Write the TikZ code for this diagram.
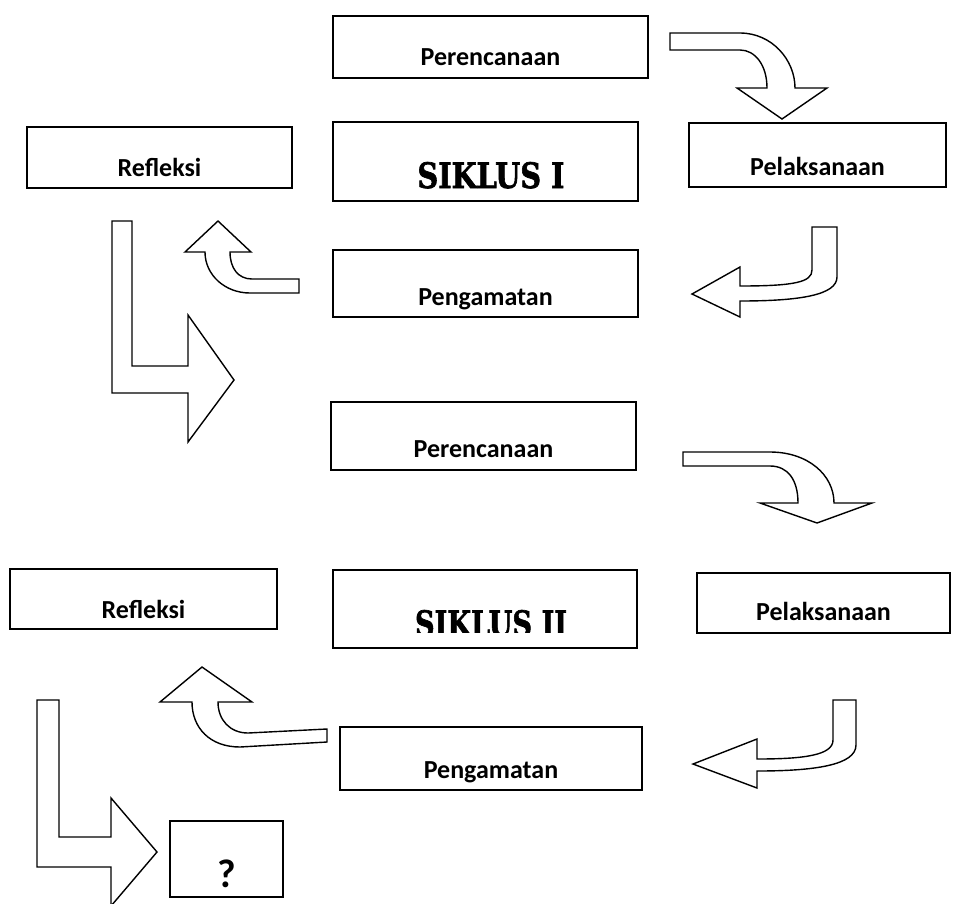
\documentclass[tikz,border=0pt]{standalone}
\usepackage{fontspec}
\setmainfont{Carlito}
\newfontfamily\slab{DejaVu Serif}[BoldFeatures={FakeBold=2}]
\begin{document}
\begin{tikzpicture}[x=1pt,y=-1pt,
  box/.style={draw=black,line width=1.4pt,fill=white,inner sep=0pt,outer sep=0pt},
  lbl/.style={anchor=base,inner sep=0pt,font=\fontsize{26}{30}\selectfont\bfseries},
  barrow/.style={draw=black,line width=1.4pt,fill=white,line join=miter}]
\useasboundingbox[fill=white] (0,0) rectangle (963,903);
\clip (0,0) rectangle (963,903);
% boxes
\node[box,minimum width=315pt,minimum height=62pt] (per1) at (490.5,47) {};
\node[box,minimum width=265pt,minimum height=61pt] (ref1) at (159.5,157.5) {};
\node[box,minimum width=305pt,minimum height=79pt] (sik1) at (485.5,161.5) {};
\node[box,minimum width=257pt,minimum height=64pt] (pel1) at (817.5,155) {};
\node[box,minimum width=305pt,minimum height=67pt] (pen1) at (485.5,283.5) {};
\node[box,minimum width=305pt,minimum height=68pt] (per2) at (483.5,436) {};
\node[box,minimum width=267pt,minimum height=60pt] (ref2) at (143.5,599) {};
\node[box,minimum width=304pt,minimum height=78pt] (sik2) at (485,609) {};
\node[box,minimum width=253pt,minimum height=60pt] (pel2) at (823.5,603) {};
\node[box,minimum width=302pt,minimum height=63pt] (pen2) at (491,758.5) {};
\node[box,minimum width=113pt,minimum height=76pt] (q) at (226.5,859) {};
% labels
\node[lbl] (per1t) at (490.5,65) {Perencanaan};
\node[lbl] (ref1t) at (159.5,176) {Refleksi};
\node[lbl] (sik1t) at (491,188) {\resizebox{147pt}{26pt}{\slab\bfseries SIKLUS I}};
\node[lbl] (pel1t) at (817.5,175) {Pelaksanaan};
\node[lbl] (pen1t) at (485.5,305) {Pengamatan};
\node[lbl] (per2t) at (483.5,457) {Perencanaan};
\node[lbl] (ref2t) at (143.5,618) {Refleksi};
\begin{scope}
\clip (330,560) rectangle (640,632);
\node[lbl] (sik2t) at (491,636) {\resizebox{152pt}{26pt}{\slab\bfseries SIKLUS II}};
\end{scope}
\node[lbl] (pel2t) at (823.5,620) {Pelaksanaan};
\node[lbl] (pen2t) at (491,778) {Pengamatan};
\node[lbl,font=\fontsize{40}{42}\selectfont\bfseries] (qt) at (227,887) {?};
% block arrows
% A: Perencanaan I -> Pelaksanaan I
\draw[barrow] (670,33) -- (740,33) .. controls (772,33) and (795,60) .. (795,88)
  -- (827,88) -- (782,119) -- (737,88) -- (767,88)
  .. controls (767,65) and (755,50) .. (740,50) -- (670,50) -- cycle;
% B: Pelaksanaan I -> Pengamatan I
\draw[barrow] (812,227) -- (837,227) -- (837,277)
  .. controls (837,295) and (800,301) .. (740,301) -- (740,317) -- (692,294)
  -- (740,267) -- (740,286) .. controls (795,286) and (812,282) .. (812,270) -- cycle;
% C: Pengamatan I -> Refleksi I
\draw[barrow] (299,279) -- (299,293) -- (250,293)
  .. controls (225,293) and (205,275) .. (205,252) -- (185,252) -- (218,221)
  -- (251,252) -- (230,252) .. controls (230,268) and (238,279) .. (252,279) -- cycle;
% D: Refleksi I -> Perencanaan II
\draw[barrow] (112,221) -- (132,221) -- (132,366) -- (188,366) -- (188,315)
  -- (234,380) -- (188,442) -- (188,393) -- (112,393) -- cycle;
% E: Perencanaan II -> Pelaksanaan II
\draw[barrow] (683,452) -- (770,452) .. controls (808,452) and (834,475) .. (834,503)
  -- (872,503) -- (817,523) -- (760,503) -- (798,503)
  .. controls (798,480) and (788,466) .. (770,466) -- (683,466) -- cycle;
% F: Pelaksanaan II -> Pengamatan II
\draw[barrow] (833,700) -- (856,700) -- (856,745)
  .. controls (856,765) and (815,771) .. (757,771) -- (757,788) -- (693,764)
  -- (757,739) -- (757,759) .. controls (805,759) and (833,755) .. (833,740) -- cycle;
% G: Pengamatan II -> Refleksi II
\draw[barrow] (327,729) -- (327,742) -- (240,747)
  .. controls (210,747) and (192,728) .. (192,702) -- (160,702) -- (202,667)
  -- (252,702) -- (218,702) .. controls (218,720) and (230,733) .. (248,733) -- cycle;
% H: Refleksi II -> ?
\draw[barrow] (37,700) -- (59,700) -- (59,837) -- (111,837) -- (111,798)
  -- (157,852) -- (111,906) -- (111,867) -- (37,867) -- cycle;
\end{tikzpicture}
\end{document}
